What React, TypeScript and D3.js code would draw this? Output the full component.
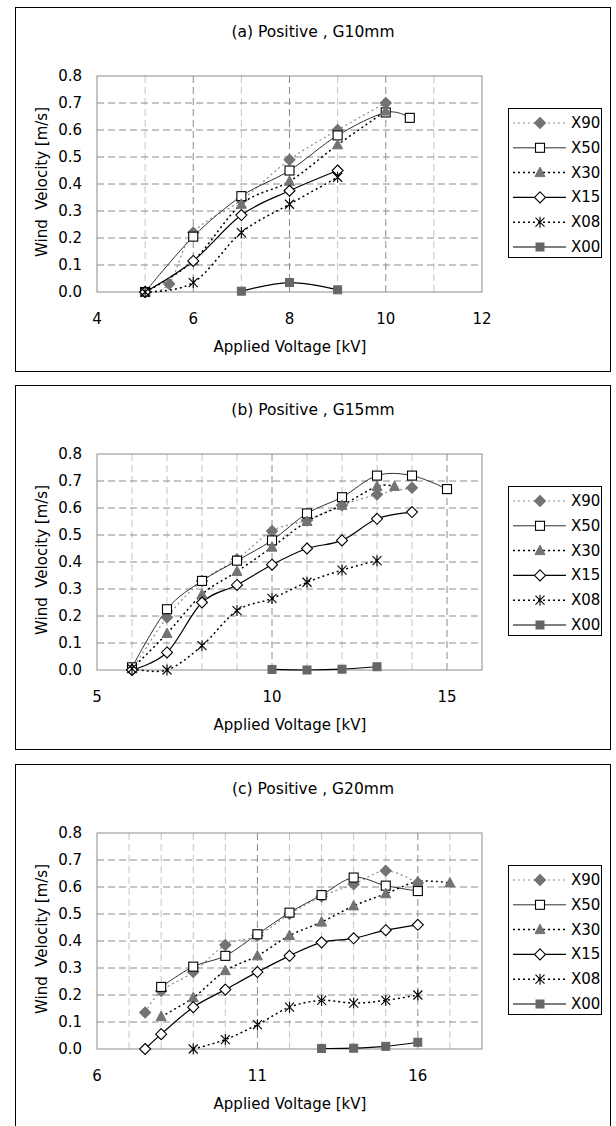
import React, { useEffect, useRef } from 'react';
import * as d3 from 'd3';

const seriesNames = ['X90', 'X50', 'X30', 'X15', 'X08', 'X00'];
const yTicks = [0, 0.1, 0.2, 0.3, 0.4, 0.5, 0.6, 0.7, 0.8];

// (a) Positive , G10mm
const aTicks = [4, 6, 8, 10, 12];
const aVolt90 = [5, 5.5, 6, 7, 8, 9, 10];
const aX90 = [0, 0.03, 0.22, 0.34, 0.49, 0.6, 0.7];
const aVolt50 = [5, 6, 7, 8, 9, 10, 10.5];
const aX50 = [0, 0.205, 0.355, 0.45, 0.58, 0.665, 0.645];
const aVolt30 = [5, 6, 7, 8, 9, 10];
const aX30 = [0, 0.115, 0.325, 0.41, 0.545, 0.67];
const aVolt15 = [5, 6, 7, 8, 9];
const aX15 = [0, 0.115, 0.285, 0.375, 0.45];
const aVolt08 = [5, 6, 7, 8, 9];
const aX08 = [0, 0.035, 0.22, 0.325, 0.425];
const aVolt00 = [7, 8, 9];
const aX00 = [0.003, 0.035, 0.008];

// (b) Positive , G15mm
const bTicks = [5, 10, 15];
const bVolt90 = [6, 7, 8, 9, 10, 11, 12, 13, 14];
const bX90 = [0, 0.195, 0.33, 0.41, 0.515, 0.555, 0.61, 0.65, 0.675];
const bVolt50 = [6, 7, 8, 9, 10, 11, 12, 13, 14, 15];
const bX50 = [0.01, 0.225, 0.33, 0.405, 0.48, 0.58, 0.64, 0.72, 0.72, 0.67];
const bVolt30 = [6, 7, 8, 9, 10, 11, 12, 13, 13.5];
const bX30 = [0.005, 0.135, 0.28, 0.365, 0.455, 0.55, 0.61, 0.68, 0.68];
const bVolt15 = [6, 7, 8, 9, 10, 11, 12, 13, 14];
const bX15 = [0, 0.065, 0.25, 0.315, 0.39, 0.45, 0.48, 0.56, 0.585];
const bVolt08 = [6, 7, 8, 9, 10, 11, 12, 13];
const bX08 = [0.005, 0, 0.09, 0.22, 0.265, 0.325, 0.37, 0.405];
const bVolt00 = [10, 11, 12, 13];
const bX00 = [0.002, 0, 0.003, 0.012];

// (c) Positive , G20mm
const cTicks = [6, 11, 16];
const cVolt90 = [7.5, 8, 9, 10, 11, 12, 13, 14, 15, 16];
const cX90 = [0.135, 0.215, 0.285, 0.385, 0.42, 0.5, 0.565, 0.61, 0.66, 0.615];
const cVolt50 = [8, 9, 10, 11, 12, 13, 14, 15, 16];
const cX50 = [0.23, 0.305, 0.345, 0.425, 0.505, 0.57, 0.635, 0.605, 0.585];
const cVolt30 = [8, 9, 10, 11, 12, 13, 14, 15, 16, 17];
const cX30 = [0.12, 0.19, 0.29, 0.345, 0.42, 0.47, 0.53, 0.575, 0.62, 0.615];
const cVolt15 = [7.5, 8, 9, 10, 11, 12, 13, 14, 15, 16];
const cX15 = [0, 0.055, 0.155, 0.22, 0.285, 0.345, 0.395, 0.41, 0.44, 0.46];
const cVolt08 = [9, 10, 11, 12, 13, 14, 15, 16];
const cX08 = [0, 0.035, 0.09, 0.155, 0.18, 0.17, 0.18, 0.2];
const cVolt00 = [13, 14, 15, 16];
const cX00 = [0.002, 0.003, 0.01, 0.025];

const FONT = "'DejaVu Sans', 'Liberation Sans', sans-serif";

// line + marker look for each series, same order as seriesNames
const styles = [
  { stroke: '#8a8a8a', dash: '2,3', width: 1.2, marker: 'diamond', fill: '#737373', mstroke: '#737373' },
  { stroke: '#303030', dash: null, width: 1, marker: 'square', fill: '#fff', mstroke: '#000' },
  { stroke: '#000', dash: '2,3', width: 1.5, marker: 'triangle', fill: '#737373', mstroke: '#737373' },
  { stroke: '#000', dash: null, width: 1.2, marker: 'diamond', fill: '#fff', mstroke: '#000' },
  { stroke: '#000', dash: '2,3', width: 1.5, marker: 'star', fill: 'none', mstroke: '#000' },
  { stroke: '#000', dash: null, width: 1.2, marker: 'fsquare', fill: '#666', mstroke: '#666' },
];

const panels = [
  { top: 7, title: '(a) Positive , G10mm', domain: [4, 12], ticks: aTicks,
    volts: [aVolt90, aVolt50, aVolt30, aVolt15, aVolt08, aVolt00], vals: [aX90, aX50, aX30, aX15, aX08, aX00] },
  { top: 385, title: '(b) Positive , G15mm', domain: [5, 16], ticks: bTicks,
    volts: [bVolt90, bVolt50, bVolt30, bVolt15, bVolt08, bVolt00], vals: [bX90, bX50, bX30, bX15, bX08, bX00] },
  { top: 764, title: '(c) Positive , G20mm', domain: [6, 18], ticks: cTicks,
    volts: [cVolt90, cVolt50, cVolt30, cVolt15, cVolt08, cVolt00], vals: [cX90, cX50, cX30, cX15, cX08, cX00] },
];

function marker(g: any, type: string, x: number, y: number, fill: string, stroke: string) {
  if (type === 'diamond') {
    g.append('path').attr('d', `M${x},${y - 5.5}L${x + 5.5},${y}L${x},${y + 5.5}L${x - 5.5},${y}Z`)
      .attr('fill', fill).attr('stroke', stroke).attr('stroke-width', 1.1);
  } else if (type === 'square') {
    g.append('rect').attr('x', x - 4.5).attr('y', y - 4.5).attr('width', 9).attr('height', 9)
      .attr('fill', fill).attr('stroke', stroke).attr('stroke-width', 1.1);
  } else if (type === 'fsquare') {
    g.append('rect').attr('x', x - 4).attr('y', y - 4).attr('width', 8).attr('height', 8)
      .attr('fill', fill).attr('stroke', stroke);
  } else if (type === 'triangle') {
    g.append('path').attr('d', `M${x},${y - 5.5}L${x + 5},${y + 4}L${x - 5},${y + 4}Z`)
      .attr('fill', fill).attr('stroke', stroke);
  } else {
    const r = 4.5;
    g.append('path')
      .attr('d', `M${x - r},${y - r}L${x + r},${y + r}M${x - r},${y + r}L${x + r},${y - r}M${x},${y - r - 1}L${x},${y + r + 1}`)
      .attr('fill', 'none').attr('stroke', stroke).attr('stroke-width', 1.1);
  }
}

function drawPanel(svg: any, p: any) {
  const T = p.top;
  const g = svg.append('g');
  const x = d3.scaleLinear().domain(p.domain).range([97, 482]);
  const y = d3.scaleLinear().domain([0, 0.8]).range([T + 285, T + 69]);

  // panel frame
  g.append('rect').attr('x', 15.5).attr('y', T + 0.5).attr('width', 595).attr('height', 364)
    .attr('fill', '#fff').attr('stroke', '#000');

  g.append('text').attr('x', 313).attr('y', T + 25).attr('text-anchor', 'middle').attr('dominant-baseline', 'central')
    .attr('font-size', 15.5).text(p.title);

  // grid
  const minor = d3.range(p.domain[0] + 1, p.domain[1]).filter((v: number) => !p.ticks.includes(v));
  g.selectAll('.minor').data(minor).join('line')
    .attr('x1', (d: number) => x(d)).attr('x2', (d: number) => x(d))
    .attr('y1', y(0.8)).attr('y2', y(0))
    .attr('stroke', '#c4c4c4').attr('stroke-dasharray', '7,4');
  g.selectAll('.major').data(p.ticks.filter((v: number) => v > p.domain[0] && v < p.domain[1])).join('line')
    .attr('x1', (d: number) => x(d)).attr('x2', (d: number) => x(d))
    .attr('y1', y(0.8)).attr('y2', y(0))
    .attr('stroke', '#8c8c8c').attr('stroke-dasharray', '7,4');
  g.selectAll('.hgrid').data(yTicks.slice(1, -1)).join('line')
    .attr('x1', x(p.domain[0])).attr('x2', x(p.domain[1]))
    .attr('y1', (d: number) => y(d)).attr('y2', (d: number) => y(d))
    .attr('stroke', '#8c8c8c').attr('stroke-dasharray', '7,4');
  g.append('rect').attr('x', x(p.domain[0])).attr('y', y(0.8))
    .attr('width', x(p.domain[1]) - x(p.domain[0])).attr('height', y(0) - y(0.8))
    .attr('fill', 'none').attr('stroke', '#8c8c8c');

  // tick labels
  g.selectAll('.yl').data(yTicks).join('text')
    .attr('x', 82).attr('y', (d: number) => y(d)).attr('text-anchor', 'end').attr('dominant-baseline', 'central')
    .attr('font-size', 15).text((d: number) => d3.format('.1f')(d));
  g.selectAll('.xl').data(p.ticks).join('text')
    .attr('x', (d: number) => x(d)).attr('y', T + 312).attr('text-anchor', 'middle').attr('dominant-baseline', 'central')
    .attr('font-size', 15).text((d: number) => d);

  g.append('text').attr('x', 290).attr('y', T + 340).attr('text-anchor', 'middle').attr('dominant-baseline', 'central')
    .attr('font-size', 15).text('Applied Voltage [kV]');
  g.append('text').attr('transform', `translate(42,${T + 175}) rotate(-90)`).attr('text-anchor', 'middle')
    .attr('dominant-baseline', 'central').attr('font-size', 15)
    .text('Wind \u00a0Velocity [m/s]');

  // series
  const line = d3.line<number[]>().x((d) => x(d[0])).y((d) => y(d[1])).curve(d3.curveCatmullRom.alpha(0));
  seriesNames.forEach((name, i) => {
    const s = styles[i];
    const pts = p.volts[i].map((v: number, j: number) => [v, p.vals[i][j]]);
    g.append('path').attr('d', line(pts)).attr('fill', 'none').attr('stroke', s.stroke)
      .attr('stroke-width', s.width).attr('stroke-dasharray', s.dash);
  });
  seriesNames.forEach((name, i) => {
    const s = styles[i];
    p.volts[i].forEach((v: number, j: number) => marker(g, s.marker, x(v), y(p.vals[i][j]), s.fill, s.mstroke));
  });

  // legend
  const lg = g.append('g');
  lg.append('rect').attr('x', 508.5).attr('y', T + 101.5).attr('width', 93).attr('height', 149)
    .attr('fill', '#fff').attr('stroke', '#000');
  seriesNames.forEach((name, i) => {
    const s = styles[i];
    const ly = T + 116 + i * 24.8;
    lg.append('line').attr('x1', 513).attr('x2', 566).attr('y1', ly).attr('y2', ly)
      .attr('stroke', s.stroke).attr('stroke-width', s.width).attr('stroke-dasharray', s.dash);
    marker(lg, s.marker, 540, ly, s.fill, s.mstroke);
    lg.append('text').attr('x', 571).attr('y', ly).attr('dominant-baseline', 'central')
      .attr('font-size', 15).text(name);
  });
}

export default function App() {
  const svgRef = useRef<SVGSVGElement>(null);

  useEffect(() => {
    const svg = d3.select(svgRef.current);
    svg.selectAll('*').remove();
    panels.forEach((p) => drawPanel(svg, p));
  }, []);

  return (
    <svg ref={svgRef} width={616} height={1126}
      style={{ position: 'absolute', left: 0, top: 0, background: '#fff', fontFamily: FONT }} />
  );
}
